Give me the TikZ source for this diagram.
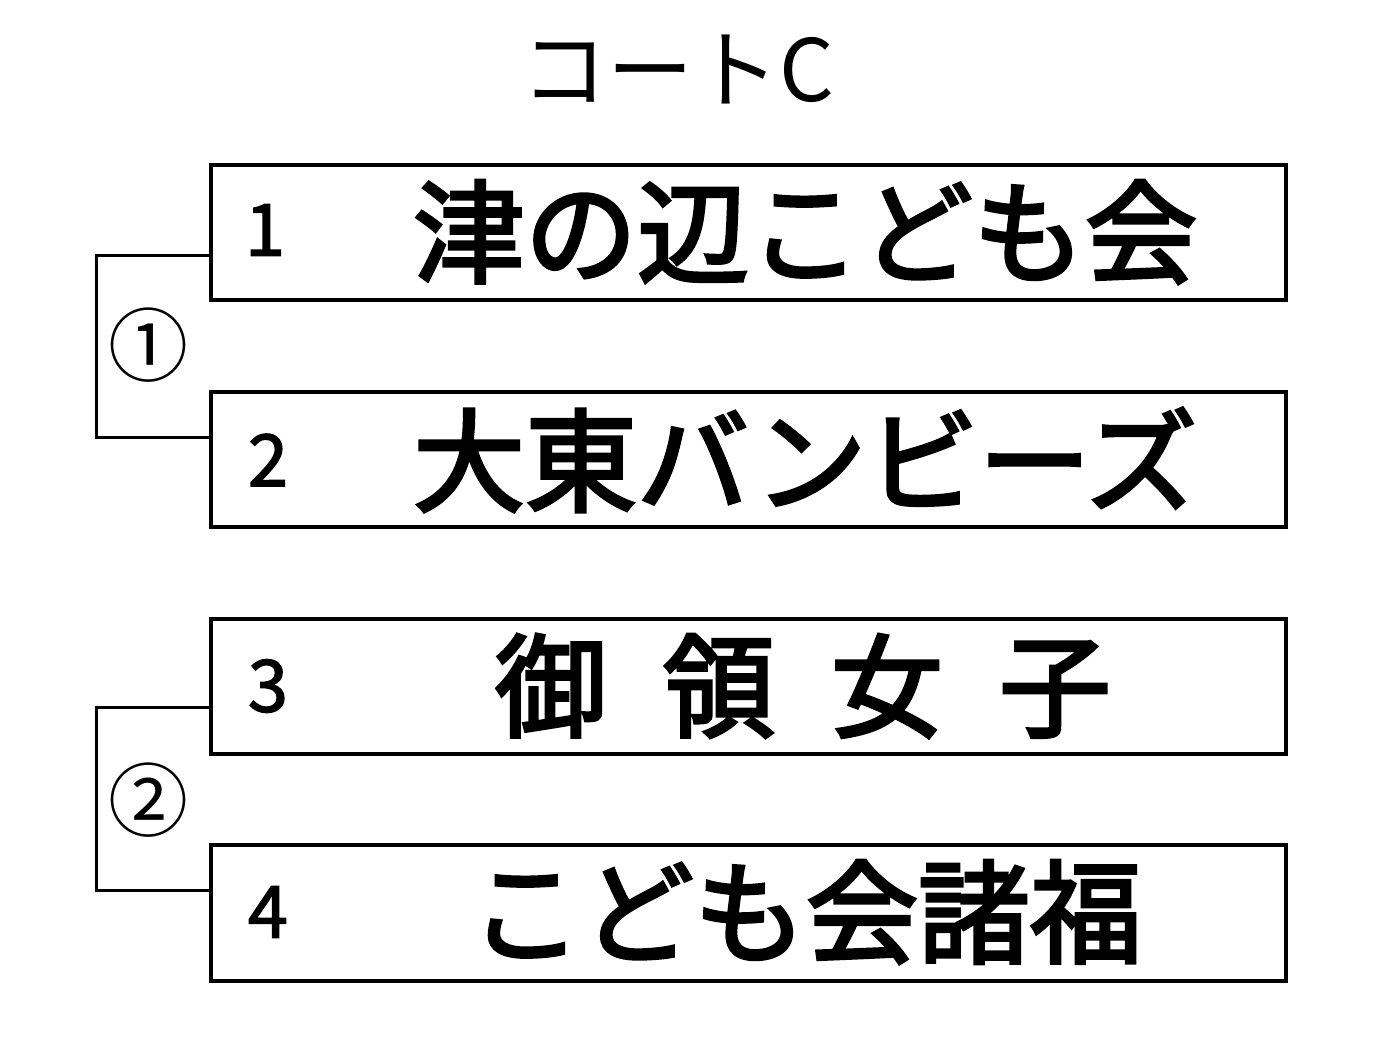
\documentclass[tikz,border=0pt]{standalone}
\usepackage{fontspec}
\newfontfamily\cjk{Noto Sans CJK JP}
\newfontfamily\cjkb{Noto Sans CJK JP}[FakeBold=3]
\newfontfamily\cjkd{Noto Sans CJK JP}[FakeBold=2]
\setmainfont{Liberation Sans}
\begin{document}
\begin{tikzpicture}[x=1pt,y=-1pt,
  teambox/.style={draw=black,line width=4pt},
  bracket/.style={draw=black,line width=3pt},
  seed/.style={inner sep=0pt,font=\cjkd\fontsize{72}{72}\selectfont},
  teamname/.style={inner sep=0pt,font=\cjkb\fontsize{112}{112}\selectfont},
  circnum/.style={inner sep=0pt,font=\cjk\fontsize{80}{80}\selectfont},
  title/.style={inner sep=0pt,font=\cjk\fontsize{86}{86}\selectfont}]
\useasboundingbox (0,0) rectangle (1379,1041);
\fill[white] (0,0) rectangle (1379,1041);
\node[title] (t) at (678,70) {コートC};
\draw[teambox] (211,165) rectangle (1286,300);
\draw[teambox] (211,392) rectangle (1286,527);
\draw[teambox] (211,619) rectangle (1286,754);
\draw[teambox] (211,845) rectangle (1286,981);
\coordinate (b1) at (211,255);
\coordinate (b2) at (211,437);
\coordinate (b3) at (211,707);
\coordinate (b4) at (211,890);
\draw[bracket] (b1) -- (96,255) -- (96,437) -- (b2);
\draw[bracket] (b3) -- (96,707) -- (96,890) -- (b4);
\node[circnum] (c1) at (148,345) {①};
\node[circnum] (c2) at (148,800) {②};
\node[seed] (s1) at (265,230) {1};
\node[seed] (s2) at (268,460) {2};
\node[seed] (s3) at (268,686) {3};
\node[seed] (s4) at (268,912) {4};
\node[teamname] (n1) at (805,232) {津の辺こども会};
\node[teamname] (n2) at (805,460) {大東バンビーズ};
\node[teamname] (n3) at (803,686) {御\,\,\,領\,\,\,女\,\,\,子};
\node[teamname] (n4) at (806,912) {こども会諸福};
\end{tikzpicture}
\end{document}
